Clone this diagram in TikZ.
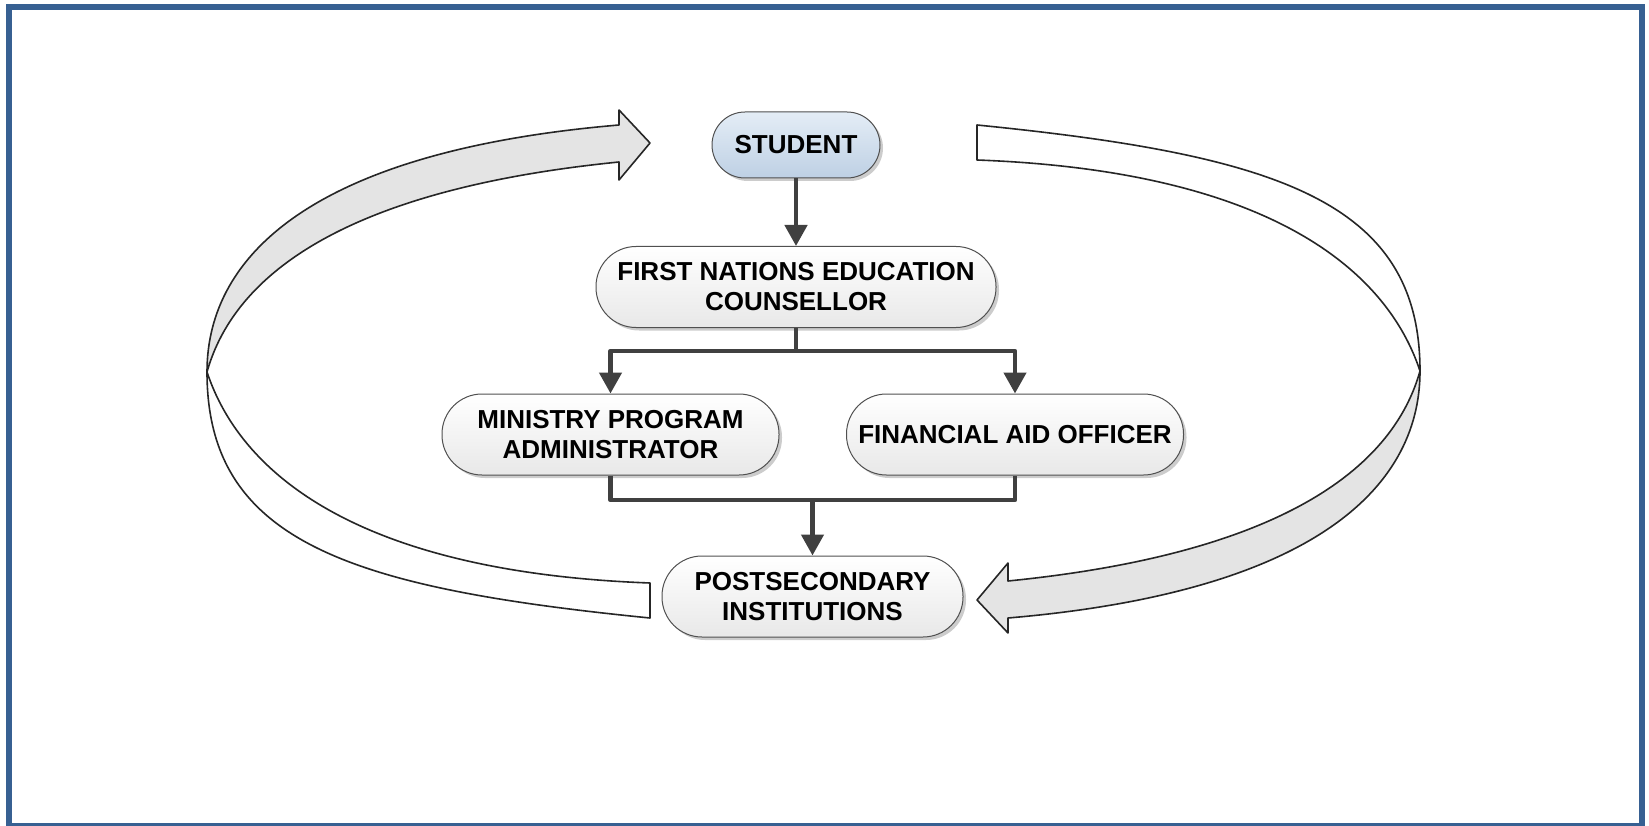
\documentclass[tikz,border=0pt]{standalone}
\usepackage{fontspec}
\setmainfont{Liberation Sans}
\usetikzlibrary{arrows.meta,shadows}

\definecolor{frameblue}{RGB}{55,96,146}
\definecolor{conncol}{RGB}{64,64,64}
\definecolor{bandgray}{RGB}{228,228,228}
\definecolor{nodeline}{RGB}{80,80,80}
\definecolor{nodebot}{RGB}{232,232,232}
\definecolor{stutop}{RGB}{228,237,246}
\definecolor{stubot}{RGB}{190,208,228}

\newcommand{\loopside}{%
  \filldraw[band, fill=bandgray]
    (207,372) .. controls (207,252) and (319,150.5) .. (619,125)
    -- (619,110) -- (650,143) -- (619,180) -- (619,162)
    .. controls (319,192) and (230,290) .. (207,372)
    -- cycle;
  \filldraw[band, fill=white]
    (207,372) .. controls (207,542) and (350,588) .. (650,618)
    -- (650,583)
    .. controls (300,570) and (227,432) .. (207,372)
    -- cycle;
}

\begin{document}
\begin{tikzpicture}[x=1pt,y=-1pt,
  pill/.style={draw=nodeline, line width=1pt, top color=white, bottom color=nodebot,
    font=\fontsize{26}{30}\selectfont\bfseries, align=center, inner sep=0pt,
    minimum height=81pt, rounded corners=40pt,
    drop shadow={shadow xshift=3pt, shadow yshift=-3pt, opacity=0.2, fill=black}},
  conn/.style={draw=conncol, line width=4.5pt, line join=round, -{Triangle[width=22pt,length=21pt]}},
  link/.style={draw=conncol, line width=4.5pt, line join=round},
  band/.style={draw=black!85, line width=1.6pt, line join=round},
]
\useasboundingbox (0,0) rectangle (1649,826);
\fill[white] (0,0) rectangle (1649,826);

% big circular arrows
\loopside
\begin{scope}[rotate around={180:(813.5,371.5)}]
  \loopside
\end{scope}

% nodes
\node[pill, minimum width=168pt, minimum height=66pt, rounded corners=33pt,
      top color=stutop, bottom color=stubot] (student) at (796,145) {STUDENT};
\node[pill, minimum width=400pt] (fnec) at (796,287) {FIRST NATIONS EDUCATION\\COUNSELLOR};
\node[pill, minimum width=337pt] (mpa) at (610.5,434.5) {MINISTRY PROGRAM\\ADMINISTRATOR};
\node[pill, minimum width=337pt] (fao) at (1015,434.5) {FINANCIAL AID OFFICER};
\node[pill, minimum width=301pt] (pi) at (812.5,596.5) {POSTSECONDARY\\INSTITUTIONS};

% connectors
\coordinate (j1) at (796,351);
\coordinate (j2) at (812.5,500);
\draw[conn] (student) -- (fnec);
\draw[link] (fnec) -- (j1);
\draw[conn] (j1) -| (mpa);
\draw[conn] (j1) -| (fao);
\draw[link] (mpa) |- (j2) -| (fao);
\draw[conn] (j2) -- (pi);

% frame
\draw[frameblue, line width=6pt] (9,7.5) rectangle (1642,826);
\end{tikzpicture}
\end{document}
